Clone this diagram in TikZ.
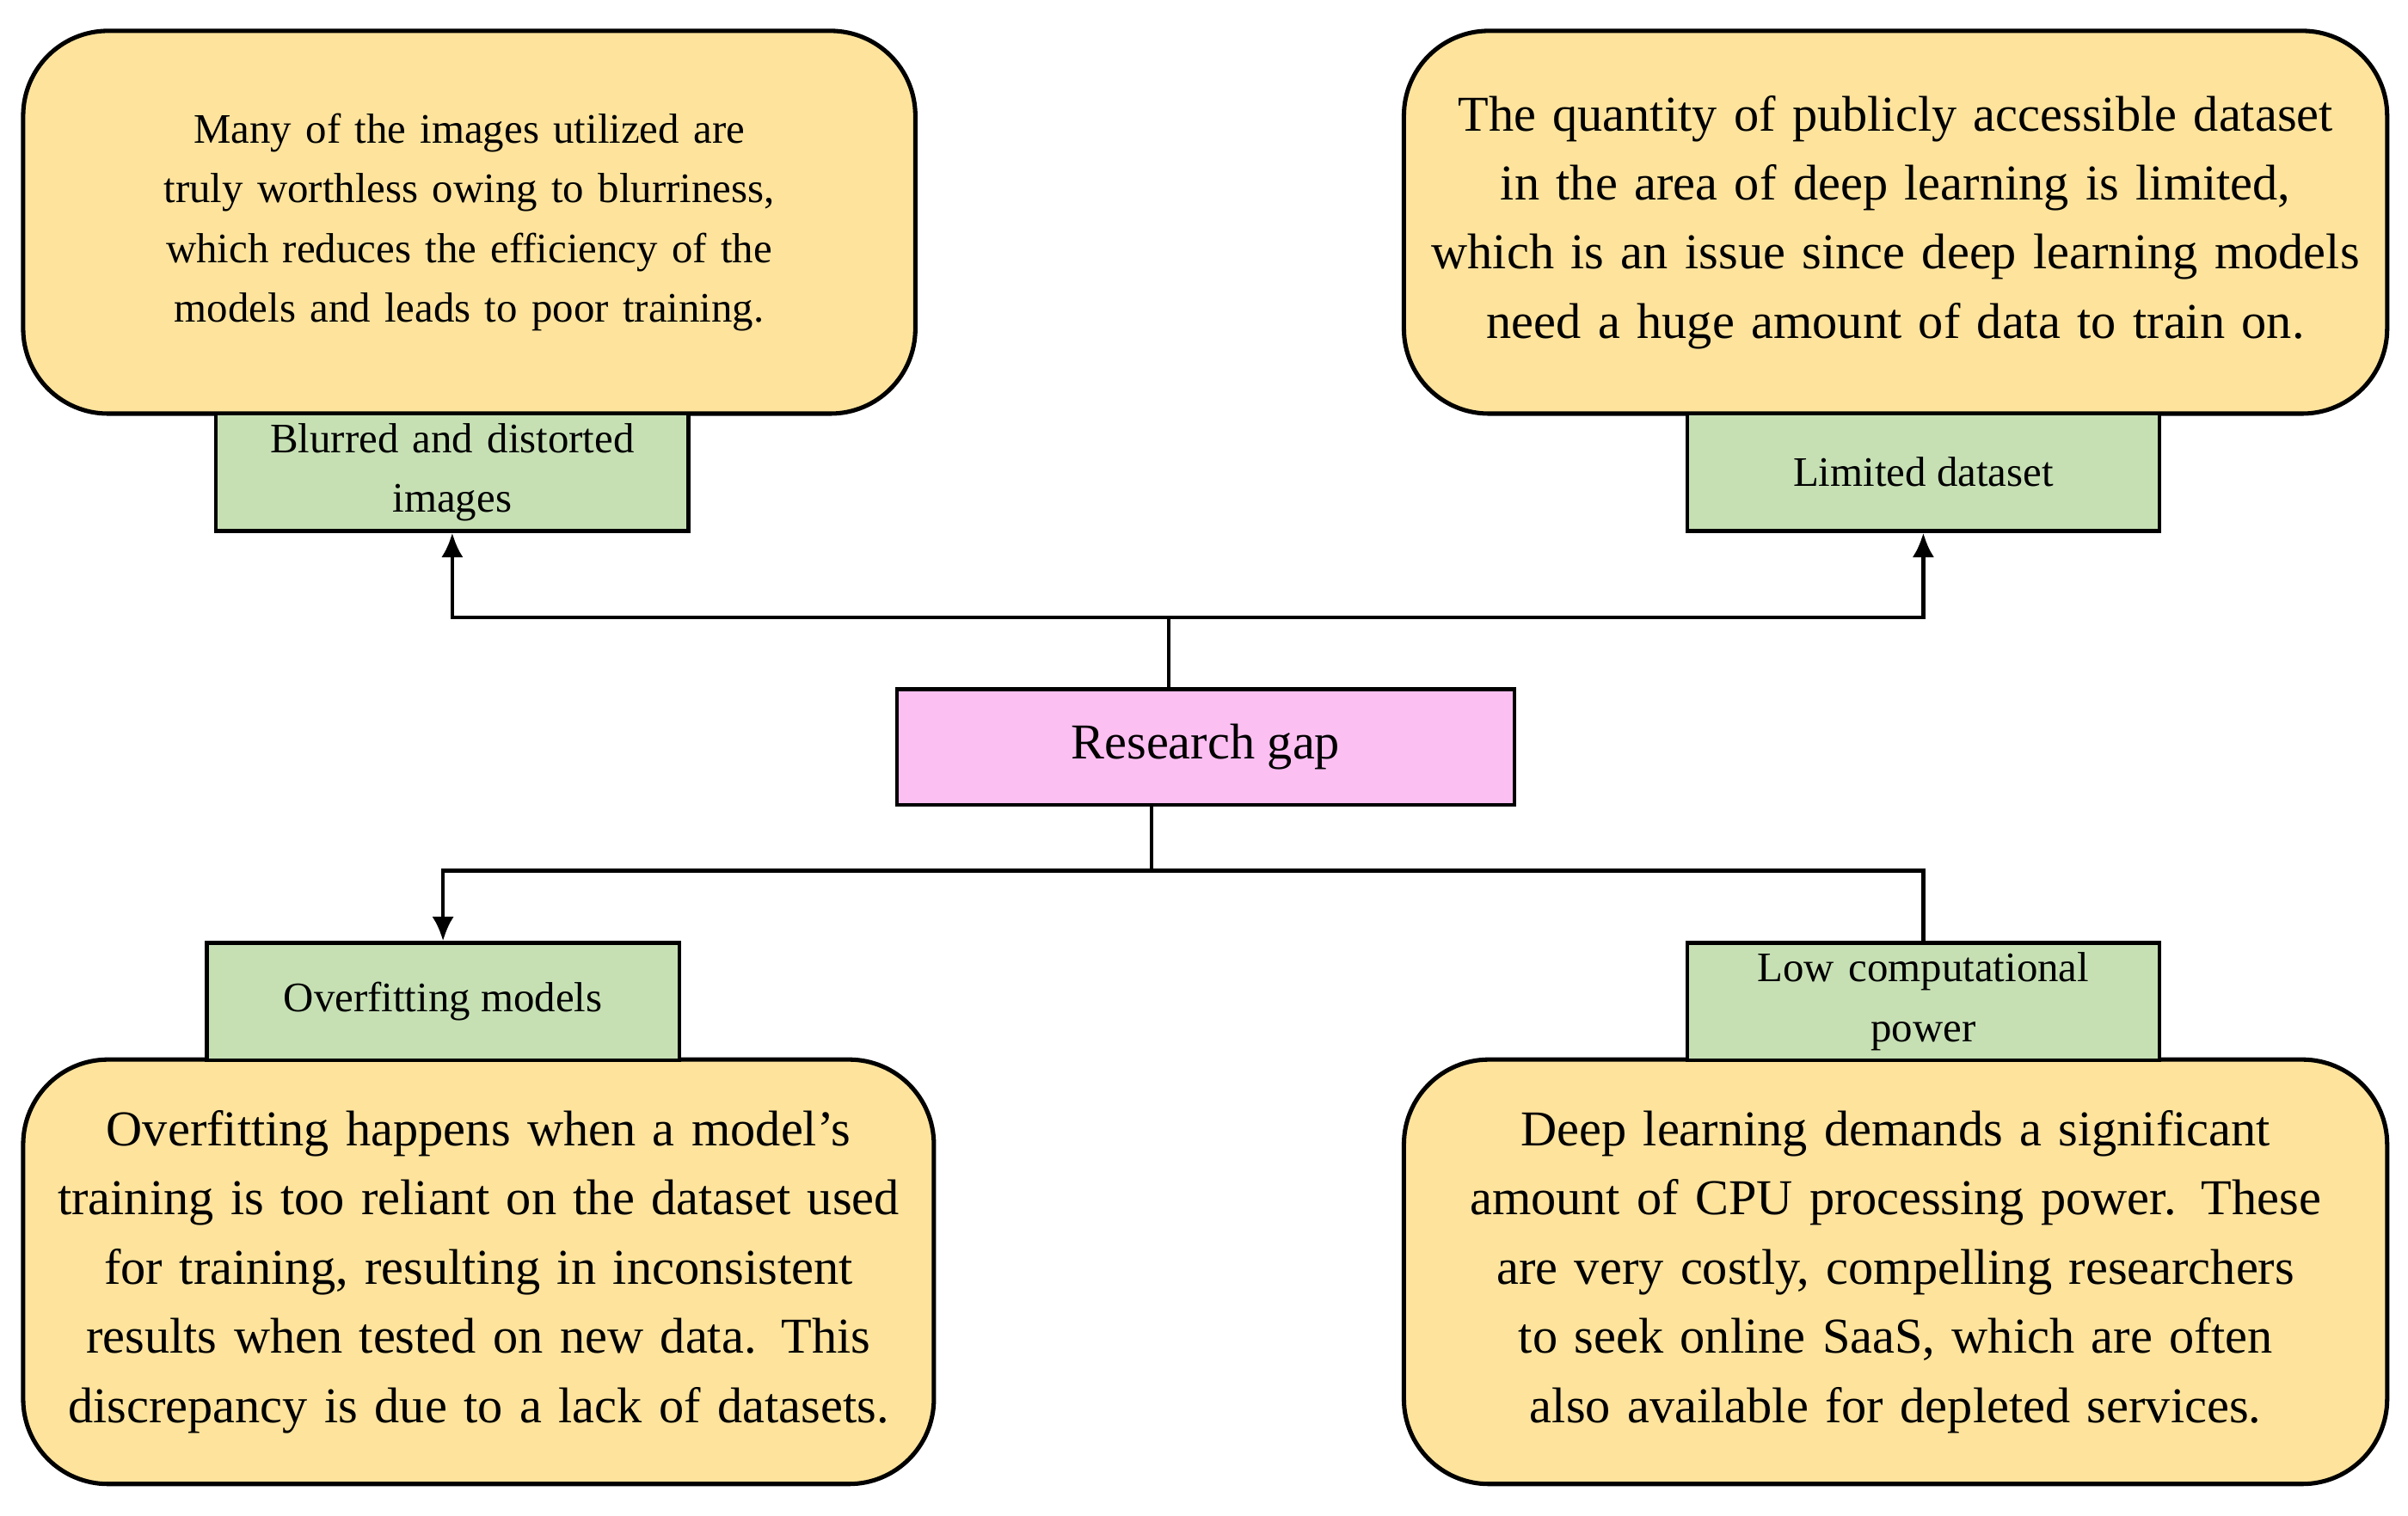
\documentclass[tikz,border=0pt]{standalone}
\usepackage{fontspec}
\setmainfont{Liberation Serif}
\begin{document}
\begin{tikzpicture}[x=0.02cm,y=-0.02cm,
 yb/.style={draw=black,line width=1.6pt,fill=yellowfill,rounded corners=1.1cm,align=center,inner sep=0pt},
 gb/.style={draw=black,line width=1.4pt,fill=greenfill,align=center,inner sep=0pt},
 ln/.style={line width=1.4pt},
 arr/.style={ln,-{Latex[length=9pt,width=8pt]}}]
\definecolor{yellowfill}{HTML}{FDE39C}
\definecolor{greenfill}{HTML}{C6E0B4}
\definecolor{pinkfill}{HTML}{FCBFF2}
\usetikzlibrary{arrows.meta}
\useasboundingbox (0,0) rectangle (1560,982);
% yellow boxes
\node[yb,minimum width=578*0.02cm,minimum height=248*0.02cm,font=\fontsize{15.5}{22}\selectfont,text width=10.6cm] (t1) at (304,144) {Many of the images utilized are truly worthless owing to blurriness, which reduces the efficiency of the models and leads to poor training.};
\node[yb,minimum width=637*0.02cm,minimum height=248*0.02cm,font=\fontsize{18.5}{25.5}\selectfont,text width=12.2cm] (t2) at (1228,144) {The quantity of publicly accessible dataset in the area of deep learning is limited, which is an issue since deep learning models need a huge amount of data to train on.};
\node[yb,minimum width=590*0.02cm,minimum height=275*0.02cm,font=\fontsize{18.5}{25.5}\selectfont,text width=11.6cm] (t3) at (310,824) {Overfitting happens when a model's training is too reliant on the dataset used for training, resulting in inconsistent results when tested on new data. This discrepancy is due to a lack of datasets.};
\node[yb,minimum width=637*0.02cm,minimum height=275*0.02cm,font=\fontsize{18.5}{25.5}\selectfont,text width=12.2cm] (t4) at (1228,824) {Deep learning demands a significant amount of CPU processing power. These are very costly, compelling researchers to seek online SaaS, which are often also available for depleted services.};
% green boxes
\node[gb,minimum width=306*0.02cm,minimum height=76*0.02cm,font=\fontsize{15.5}{22}\selectfont,text width=5.8cm] (g1) at (293,306) {Blurred and distorted\\images};
\node[gb,minimum width=306*0.02cm,minimum height=76*0.02cm,font=\fontsize{15.5}{22}\selectfont] (g2) at (1246,306) {Limited dataset};
\node[gb,minimum width=306*0.02cm,minimum height=76*0.02cm,font=\fontsize{15.5}{22}\selectfont] (g3) at (287,649) {Overfitting models};
\node[gb,minimum width=306*0.02cm,minimum height=76*0.02cm,font=\fontsize{15.5}{22}\selectfont,text width=5.8cm] (g4) at (1246,649) {Low computational\\power};
% research gap
\node[draw=black,line width=1.4pt,fill=pinkfill,minimum width=400*0.02cm,minimum height=75*0.02cm,font=\fontsize{18.5}{22}\selectfont] (rg) at (781,484) {Research gap};
\coordinate (c1) at (757,400);
\coordinate (c2) at (746,564);
\draw[ln] (rg.north -| c1) -- (c1);
\draw[arr] (c1) -| (g1.south);
\draw[arr] (c1) -| (g2.south);
\draw[ln] (rg.south -| c2) -- (c2);
\draw[arr] (c2) -| (g3.north);
\draw[ln] (c2) -| (g4.north);
\end{tikzpicture}
\end{document}
